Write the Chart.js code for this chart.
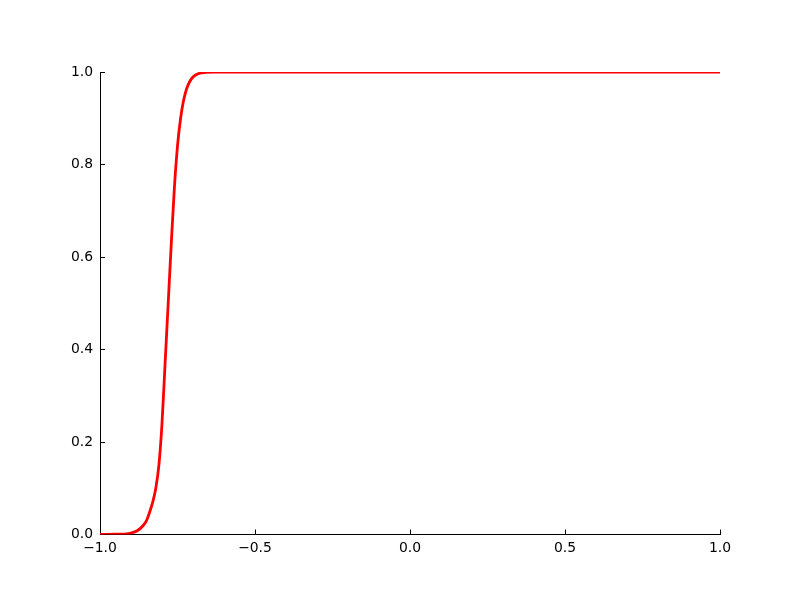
<!DOCTYPE html>
<html>
<head>
<meta charset="utf-8">
<script src="https://cdn.jsdelivr.net/npm/chart.js@4/dist/chart.umd.min.js"></script>
<style>
  html,body{margin:0;padding:0;background:#fff;}
  canvas{display:block;}
</style>
</head>
<body>
<canvas id="c" width="800" height="600"></canvas>
<script>
// curve (x, value)
const xVals = [-1.0, -0.95, -0.92, -0.90, -0.88, -0.86, -0.85, -0.84, -0.83, -0.82, -0.81, -0.80, -0.79, -0.78,
               -0.77, -0.76, -0.75, -0.74, -0.73, -0.72, -0.71, -0.70, -0.69, -0.68, -0.66, -0.63, -0.6, 0.0, 1.0];
const yVals = [0.0, 0.0005, 0.001, 0.003, 0.008, 0.02, 0.03, 0.048, 0.07, 0.10, 0.15, 0.24, 0.37, 0.50,
               0.63, 0.75, 0.84, 0.90, 0.94, 0.965, 0.98, 0.989, 0.994, 0.997, 0.999, 1.0, 1.0, 1.0, 1.0];
const xTicks = [-1.0, -0.5, 0.0, 0.5, 1.0];
const yTicks = [0.0, 0.2, 0.4, 0.6, 0.8, 1.0];

const FONT = {family:'"DejaVu Sans", sans-serif', size:13.9};
const fmt = v => (v < 0 ? '\u2212' : '') + Math.abs(v).toFixed(1);

const pts = xVals.map((x,i)=>({x, y:yVals[i]}));

new Chart(document.getElementById('c'), {
  type:'line',
  data:{datasets:[{
    data:pts, borderColor:'#ff0000', borderWidth:2.8, pointRadius:0,
    cubicInterpolationMode:'monotone', fill:false, clip:0
  }]},
  options:{
    responsive:false, animation:false,
    layout:{padding:{left:0, top:72, right:80, bottom:0}},
    plugins:{legend:{display:false}, tooltip:{enabled:false}},
    scales:{
      x:{
        type:'linear', min:-1, max:1,
        afterBuildTicks:s=>{ s.ticks = xTicks.map(v=>({value:v})); },
        afterFit:s=>{ s.height = 65.5; },
        border:{color:'#000', width:1},
        grid:{drawOnChartArea:false, tickLength:-5, tickColor:'#000', tickWidth:1},
        ticks:{color:'#000', font:FONT, padding:11, callback:v=>fmt(v), maxRotation:0}
      },
      y:{
        type:'linear', min:0, max:1,
        afterBuildTicks:s=>{ s.ticks = yTicks.map(v=>({value:v})); },
        afterFit:s=>{ s.width = 100; },
        border:{color:'#000', width:1},
        grid:{drawOnChartArea:false, tickLength:-5, tickColor:'#000', tickWidth:1},
        ticks:{color:'#000', font:FONT, padding:12, callback:v=>fmt(v)}
      }
    }
  }
});
</script>
</body>
</html>
